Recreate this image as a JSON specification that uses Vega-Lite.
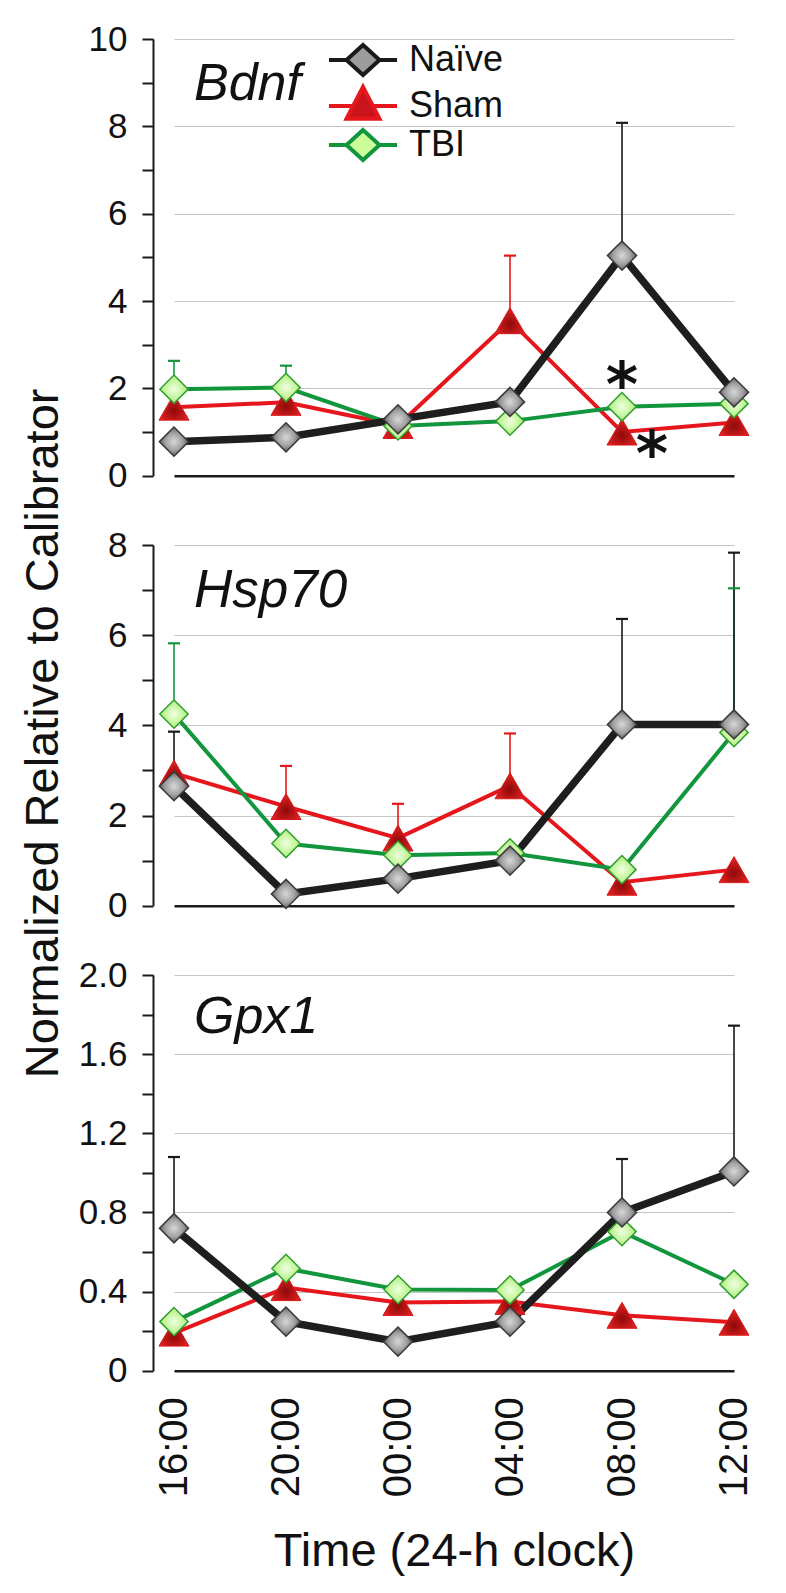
{
  "$schema": "https://vega.github.io/schema/vega-lite/v6.json",
  "background": "white",
  "padding": {"left": 20, "top": 22, "right": 10, "bottom": 8},
  "config": {"view": {"stroke": null}, "font": "Liberation Sans"},
  "title": {"text": "Normalized Relative to Calibrator", "orient": "left", "anchor": "middle", "frame": "bounds", "fontSize": 47, "fontWeight": "normal", "font": "Liberation Sans", "color": "#111", "offset": -27, "baseline": "alphabetic", "dx": 65},
  "datasets": {
    "pts": [
      {"gene": "Bdnf", "series": "Sham", "time": "16:00", "value": 1.57},
      {"gene": "Bdnf", "series": "Sham", "time": "20:00", "value": 1.68},
      {"gene": "Bdnf", "series": "Sham", "time": "00:00", "value": 1.15},
      {"gene": "Bdnf", "series": "Sham", "time": "04:00", "value": 3.55, "upper": 5.04},
      {"gene": "Bdnf", "series": "Sham", "time": "08:00", "value": 1.0},
      {"gene": "Bdnf", "series": "Sham", "time": "12:00", "value": 1.22},
      {"gene": "Bdnf", "series": "TBI", "time": "16:00", "value": 1.98, "upper": 2.63},
      {"gene": "Bdnf", "series": "TBI", "time": "20:00", "value": 2.02, "upper": 2.52},
      {"gene": "Bdnf", "series": "TBI", "time": "00:00", "value": 1.14},
      {"gene": "Bdnf", "series": "TBI", "time": "04:00", "value": 1.25},
      {"gene": "Bdnf", "series": "TBI", "time": "08:00", "value": 1.58},
      {"gene": "Bdnf", "series": "TBI", "time": "12:00", "value": 1.65},
      {"gene": "Bdnf", "series": "Naïve", "time": "16:00", "value": 0.78},
      {"gene": "Bdnf", "series": "Naïve", "time": "20:00", "value": 0.88},
      {"gene": "Bdnf", "series": "Naïve", "time": "00:00", "value": 1.29},
      {"gene": "Bdnf", "series": "Naïve", "time": "04:00", "value": 1.69},
      {"gene": "Bdnf", "series": "Naïve", "time": "08:00", "value": 5.04, "upper": 8.08},
      {"gene": "Bdnf", "series": "Naïve", "time": "12:00", "value": 1.91},
      {"gene": "Hsp70", "series": "Sham", "time": "16:00", "value": 2.94},
      {"gene": "Hsp70", "series": "Sham", "time": "20:00", "value": 2.2, "upper": 3.1},
      {"gene": "Hsp70", "series": "Sham", "time": "00:00", "value": 1.5, "upper": 2.26},
      {"gene": "Hsp70", "series": "Sham", "time": "04:00", "value": 2.66, "upper": 3.82},
      {"gene": "Hsp70", "series": "Sham", "time": "08:00", "value": 0.52},
      {"gene": "Hsp70", "series": "Sham", "time": "12:00", "value": 0.8},
      {"gene": "Hsp70", "series": "TBI", "time": "16:00", "value": 4.25, "upper": 5.82},
      {"gene": "Hsp70", "series": "TBI", "time": "20:00", "value": 1.38},
      {"gene": "Hsp70", "series": "TBI", "time": "00:00", "value": 1.12},
      {"gene": "Hsp70", "series": "TBI", "time": "04:00", "value": 1.17},
      {"gene": "Hsp70", "series": "TBI", "time": "08:00", "value": 0.8},
      {"gene": "Hsp70", "series": "TBI", "time": "12:00", "value": 3.84, "upper": 7.04},
      {"gene": "Hsp70", "series": "Naïve", "time": "16:00", "value": 2.65, "upper": 3.86},
      {"gene": "Hsp70", "series": "Naïve", "time": "20:00", "value": 0.26},
      {"gene": "Hsp70", "series": "Naïve", "time": "00:00", "value": 0.6},
      {"gene": "Hsp70", "series": "Naïve", "time": "04:00", "value": 1.0},
      {"gene": "Hsp70", "series": "Naïve", "time": "08:00", "value": 4.02, "upper": 6.36},
      {"gene": "Hsp70", "series": "Naïve", "time": "12:00", "value": 4.02, "upper": 7.83},
      {"gene": "Gpx1", "series": "Sham", "time": "16:00", "value": 0.19},
      {"gene": "Gpx1", "series": "Sham", "time": "20:00", "value": 0.42},
      {"gene": "Gpx1", "series": "Sham", "time": "00:00", "value": 0.345},
      {"gene": "Gpx1", "series": "Sham", "time": "04:00", "value": 0.35},
      {"gene": "Gpx1", "series": "Sham", "time": "08:00", "value": 0.28},
      {"gene": "Gpx1", "series": "Sham", "time": "12:00", "value": 0.245},
      {"gene": "Gpx1", "series": "TBI", "time": "16:00", "value": 0.248},
      {"gene": "Gpx1", "series": "TBI", "time": "20:00", "value": 0.517},
      {"gene": "Gpx1", "series": "TBI", "time": "00:00", "value": 0.41},
      {"gene": "Gpx1", "series": "TBI", "time": "04:00", "value": 0.408},
      {"gene": "Gpx1", "series": "TBI", "time": "08:00", "value": 0.703},
      {"gene": "Gpx1", "series": "TBI", "time": "12:00", "value": 0.437},
      {"gene": "Gpx1", "series": "Naïve", "time": "16:00", "value": 0.72, "upper": 1.08},
      {"gene": "Gpx1", "series": "Naïve", "time": "20:00", "value": 0.248},
      {"gene": "Gpx1", "series": "Naïve", "time": "00:00", "value": 0.147},
      {"gene": "Gpx1", "series": "Naïve", "time": "04:00", "value": 0.248},
      {"gene": "Gpx1", "series": "Naïve", "time": "08:00", "value": 0.8, "upper": 1.07},
      {"gene": "Gpx1", "series": "Naïve", "time": "12:00", "value": 1.007, "upper": 1.744}
    ]
  },
  "spacing": 69,
  "bounds": "flush",
  "resolve": {"scale": {"x": "independent", "y": "independent", "color": "independent", "fill": "independent", "stroke": "independent", "shape": "independent"}},
  "vconcat": [
    {
      "width": 560, "height": 436.7,
      "title": {"text": "Bdnf", "anchor": "start", "frame": "group", "orient": "top", "offset": -130, "dx": 20, "fontSize": 52, "fontStyle": "italic", "fontWeight": "normal", "font": "Liberation Sans", "color": "#111", "baseline": "alphabetic"},
      "data": {"name": "pts"},
      "transform": [{"filter": "datum.gene === 'Bdnf'"}],
      "encoding": {
        "x": {"field": "time", "type": "ordinal", "scale": {"type": "point", "padding": 0, "domain": ["16:00", "20:00", "00:00", "04:00", "08:00", "12:00"]}, "axis": {"title": null, "labels": false, "ticks": false, "domainColor": "#1a1a1a", "domainWidth": 2.5, "grid": false}},
        "y": {"field": "value", "type": "quantitative", "scale": {"domain": [0, 10], "nice": false}, "axis": {"title": null, "offset": 21, "values": [0, 1, 2, 3, 4, 5, 6, 7, 8, 9, 10], "labelExpr": "datum.value % 2 === 0 ? datum.label : ''", "labelOverlap": false, "labelFlush": false, "domainColor": "#1a1a1a", "domainWidth": 2, "tickColor": "#1a1a1a", "tickWidth": 2, "tickSize": 11, "labelPadding": 15, "labelFontSize": 35, "labelColor": "#111", "labelFont": "Liberation Sans", "grid": true, "gridColor": "#c4c4c4", "gridWidth": 1.2, "gridOpacity": {"condition": {"test": "datum.value % 2 === 0 && datum.value > 0", "value": 1}, "value": 0}}}
      },
      "layer": [
        {"mark": {"type": "line", "color": "#e5171c", "strokeWidth": 4}, "transform": [{"filter": "datum.series === 'Sham'"}]},
        {"mark": {"type": "line", "color": "#12963d", "strokeWidth": 4}, "transform": [{"filter": "datum.series === 'TBI'"}]},
        {"mark": {"type": "line", "color": "#1e1e1e", "strokeWidth": 7.5}, "transform": [{"filter": "datum.series === 'Naïve'"}]},
        {"transform": [{"filter": "isValid(datum.upper)"}], "mark": {"type": "rule", "strokeWidth": 1.6}, "encoding": {"y2": {"field": "upper"}, "color": {"field": "series", "type": "nominal", "scale": {"domain": ["Sham", "TBI", "Naïve"], "range": ["#e5171c", "#12963d", "#1a1a1a"]}, "legend": null}}},
        {"transform": [{"filter": "isValid(datum.upper)"}], "mark": {"type": "tick", "size": 12, "thickness": 2.2, "opacity": 1}, "encoding": {"y": {"field": "upper", "type": "quantitative"}, "color": {"field": "series", "type": "nominal", "scale": {"domain": ["Sham", "TBI", "Naïve"], "range": ["#e5171c", "#12963d", "#1a1a1a"]}, "legend": null}}},
        {"transform": [{"filter": "datum.series === 'Sham'"}], "mark": {"type": "point", "shape": "triangle-up", "size": 900, "filled": true, "opacity": 1, "fill": {"gradient": "radial", "x1": 0.5, "y1": 0.62, "x2": 0.5, "y2": 0.62, "r1": 0, "r2": 0.6, "stops": [{"offset": 0, "color": "#8e0a0a"}, {"offset": 1, "color": "#ef2424"}]}, "stroke": "#d81a1a", "strokeWidth": 1}},
        {"transform": [{"filter": "datum.series === 'TBI'"}], "mark": {"type": "point", "shape": "diamond", "size": 800, "filled": true, "opacity": 1, "fill": {"gradient": "radial", "x1": 0.5, "y1": 0.5, "x2": 0.5, "y2": 0.5, "r1": 0, "r2": 0.55, "stops": [{"offset": 0, "color": "#f0ffe0"}, {"offset": 1, "color": "#a6ef70"}]}, "stroke": "#2f9e2f", "strokeWidth": 1.5}},
        {"transform": [{"filter": "datum.series === 'Naïve'"}], "mark": {"type": "point", "shape": "diamond", "size": 850, "filled": true, "opacity": 1, "fill": {"gradient": "radial", "x1": 0.5, "y1": 0.5, "x2": 0.5, "y2": 0.5, "r1": 0, "r2": 0.55, "stops": [{"offset": 0, "color": "#d8d8d8"}, {"offset": 0.55, "color": "#a0a0a0"}, {"offset": 1, "color": "#505050"}]}, "stroke": "#3a3a3a", "strokeWidth": 1.5}},
        {"transform": [{"filter": "false"}], "mark": {"type": "point", "filled": true, "opacity": 1},
         "encoding": {
           "shape": {"field": "series", "type": "nominal", "scale": {"domain": ["Naïve", "Sham", "TBI"], "range": ["M-2.27,0H-1.1M1.1,0H2.27M0,-1L1.1,0L0,1L-1.1,0Z", "M-2.27,0H-0.66M0.66,0H2.27M0,-1.27L1.1,0.85L-1.1,0.85Z", "M-2.27,0H-1.1M1.1,0H2.27M0,-1L1.1,0L0,1L-1.1,0Z"]}, "legend": {"orient": "none", "legendX": 171, "legendY": 3, "title": null, "padding": 0, "labelFontSize": 36, "labelFont": "Liberation Sans", "labelColor": "#111", "labelOffset": 28, "symbolSize": 900, "symbolStrokeWidth": 4, "rowPadding": -5, "symbolOpacity": 1}},
           "fill": {"field": "series", "type": "nominal", "scale": {"domain": ["Naïve", "Sham", "TBI"], "range": ["#9d9d9d", "#c8141a", "#ccff99"]}, "legend": {"orient": "none", "legendX": 171, "legendY": 3, "title": null, "padding": 0, "labelFontSize": 36, "labelFont": "Liberation Sans", "labelColor": "#111", "labelOffset": 28, "symbolSize": 900, "symbolStrokeWidth": 4, "rowPadding": -5, "symbolOpacity": 1}},
           "stroke": {"field": "series", "type": "nominal", "scale": {"domain": ["Naïve", "Sham", "TBI"], "range": ["#1a1a1a", "#e5171c", "#12963d"]}, "legend": {"orient": "none", "legendX": 171, "legendY": 3, "title": null, "padding": 0, "labelFontSize": 36, "labelFont": "Liberation Sans", "labelColor": "#111", "labelOffset": 28, "symbolSize": 900, "symbolStrokeWidth": 4, "rowPadding": -5, "symbolOpacity": 1}}
         }},
        {"data": {"values": [{"gene": "Bdnf", "time": "08:00", "value": 2.42, "label": "*"}]}, "mark": {"type": "text", "font": "DejaVu Sans", "fontWeight": "bold", "fontSize": 62, "baseline": "alphabetic", "dy": 36, "color": "#111"}, "encoding": {"text": {"field": "label"}}},
        {"data": {"values": [{"gene": "Bdnf", "time": "08:00", "value": 0.85, "label": "*"}]}, "mark": {"type": "text", "font": "DejaVu Sans", "fontWeight": "bold", "fontSize": 62, "baseline": "alphabetic", "dy": 36, "dx": 30, "color": "#111"}, "encoding": {"text": {"field": "label"}}}
      ]
    },
    {
      "width": 560, "height": 360.7,
      "title": {"text": "Hsp70", "anchor": "start", "frame": "group", "orient": "top", "offset": -131.7, "dx": 20, "fontSize": 53, "fontStyle": "italic", "fontWeight": "normal", "font": "Liberation Sans", "color": "#111", "baseline": "alphabetic"},
      "data": {"name": "pts"},
      "transform": [{"filter": "datum.gene === 'Hsp70'"}],
      "encoding": {
        "x": {"field": "time", "type": "ordinal", "scale": {"type": "point", "padding": 0, "domain": ["16:00", "20:00", "00:00", "04:00", "08:00", "12:00"]}, "axis": {"title": null, "labels": false, "ticks": false, "domainColor": "#1a1a1a", "domainWidth": 2.5, "grid": false}},
        "y": {"field": "value", "type": "quantitative", "scale": {"domain": [0, 8], "nice": false}, "axis": {"title": null, "offset": 21, "values": [0, 1, 2, 3, 4, 5, 6, 7, 8], "labelExpr": "datum.value % 2 === 0 ? datum.label : ''", "labelOverlap": false, "labelFlush": false, "domainColor": "#1a1a1a", "domainWidth": 2, "tickColor": "#1a1a1a", "tickWidth": 2, "tickSize": 11, "labelPadding": 15, "labelFontSize": 35, "labelColor": "#111", "labelFont": "Liberation Sans", "grid": true, "gridColor": "#c4c4c4", "gridWidth": 1.2, "gridOpacity": {"condition": {"test": "datum.value % 2 === 0 && datum.value > 0", "value": 1}, "value": 0}}}
      },
      "layer": [
        {"mark": {"type": "line", "color": "#e5171c", "strokeWidth": 4}, "transform": [{"filter": "datum.series === 'Sham'"}]},
        {"mark": {"type": "line", "color": "#12963d", "strokeWidth": 4}, "transform": [{"filter": "datum.series === 'TBI'"}]},
        {"mark": {"type": "line", "color": "#1e1e1e", "strokeWidth": 7.5}, "transform": [{"filter": "datum.series === 'Naïve'"}]},
        {"transform": [{"filter": "isValid(datum.upper)"}], "mark": {"type": "rule", "strokeWidth": 1.6}, "encoding": {"y2": {"field": "upper"}, "color": {"field": "series", "type": "nominal", "scale": {"domain": ["Sham", "TBI", "Naïve"], "range": ["#e5171c", "#12963d", "#1a1a1a"]}, "legend": null}}},
        {"transform": [{"filter": "isValid(datum.upper)"}], "mark": {"type": "tick", "size": 12, "thickness": 2.2, "opacity": 1}, "encoding": {"y": {"field": "upper", "type": "quantitative"}, "color": {"field": "series", "type": "nominal", "scale": {"domain": ["Sham", "TBI", "Naïve"], "range": ["#e5171c", "#12963d", "#1a1a1a"]}, "legend": null}}},
        {"transform": [{"filter": "datum.series === 'Sham'"}], "mark": {"type": "point", "shape": "triangle-up", "size": 900, "filled": true, "opacity": 1, "fill": {"gradient": "radial", "x1": 0.5, "y1": 0.62, "x2": 0.5, "y2": 0.62, "r1": 0, "r2": 0.6, "stops": [{"offset": 0, "color": "#8e0a0a"}, {"offset": 1, "color": "#ef2424"}]}, "stroke": "#d81a1a", "strokeWidth": 1}},
        {"transform": [{"filter": "datum.series === 'TBI'"}], "mark": {"type": "point", "shape": "diamond", "size": 800, "filled": true, "opacity": 1, "fill": {"gradient": "radial", "x1": 0.5, "y1": 0.5, "x2": 0.5, "y2": 0.5, "r1": 0, "r2": 0.55, "stops": [{"offset": 0, "color": "#f0ffe0"}, {"offset": 1, "color": "#a6ef70"}]}, "stroke": "#2f9e2f", "strokeWidth": 1.5}},
        {"transform": [{"filter": "datum.series === 'Naïve'"}], "mark": {"type": "point", "shape": "diamond", "size": 850, "filled": true, "opacity": 1, "fill": {"gradient": "radial", "x1": 0.5, "y1": 0.5, "x2": 0.5, "y2": 0.5, "r1": 0, "r2": 0.55, "stops": [{"offset": 0, "color": "#d8d8d8"}, {"offset": 0.55, "color": "#a0a0a0"}, {"offset": 1, "color": "#505050"}]}, "stroke": "#3a3a3a", "strokeWidth": 1.5}}
      ]
    },
    {
      "width": 560, "height": 395.7,
      "title": {"text": "Gpx1", "anchor": "start", "frame": "group", "orient": "top", "offset": -127, "dx": 20, "fontSize": 52, "fontStyle": "italic", "fontWeight": "normal", "font": "Liberation Sans", "color": "#111", "baseline": "alphabetic"},
      "data": {"name": "pts"},
      "transform": [{"filter": "datum.gene === 'Gpx1'"}],
      "encoding": {
        "x": {"field": "time", "type": "ordinal", "scale": {"type": "point", "padding": 0, "domain": ["16:00", "20:00", "00:00", "04:00", "08:00", "12:00"]}, "axis": {"title": "Time (24-h clock)", "labelAngle": -90, "labelFontSize": 40, "labelPadding": 26, "labelColor": "#111", "labelFont": "Liberation Sans", "ticks": false, "domainColor": "#1a1a1a", "domainWidth": 2.5, "grid": false, "titleFontSize": 47, "titleFontWeight": "normal", "titleColor": "#111", "titleFont": "Liberation Sans", "titleY": 195, "titleBaseline": "alphabetic"}},
        "y": {"field": "value", "type": "quantitative", "scale": {"domain": [0, 2], "nice": false}, "axis": {"title": null, "offset": 21, "values": [0, 0.2, 0.4, 0.6, 0.8, 1, 1.2, 1.4, 1.6, 1.8, 2], "labelExpr": "round(datum.value * 10) % 4 === 0 ? (datum.value === 0 ? '0' : format(datum.value, '.1f')) : ''", "labelOverlap": false, "labelFlush": false, "domainColor": "#1a1a1a", "domainWidth": 2, "tickColor": "#1a1a1a", "tickWidth": 2, "tickSize": 11, "labelPadding": 15, "labelFontSize": 35, "labelColor": "#111", "labelFont": "Liberation Sans", "grid": true, "gridColor": "#c4c4c4", "gridWidth": 1.2, "gridOpacity": {"condition": {"test": "round(datum.value * 10) % 4 === 0 && datum.value > 0", "value": 1}, "value": 0}}}
      },
      "layer": [
        {"mark": {"type": "line", "color": "#e5171c", "strokeWidth": 4}, "transform": [{"filter": "datum.series === 'Sham'"}]},
        {"mark": {"type": "line", "color": "#12963d", "strokeWidth": 4}, "transform": [{"filter": "datum.series === 'TBI'"}]},
        {"mark": {"type": "line", "color": "#1e1e1e", "strokeWidth": 7.5}, "transform": [{"filter": "datum.series === 'Naïve'"}]},
        {"transform": [{"filter": "isValid(datum.upper)"}], "mark": {"type": "rule", "strokeWidth": 1.6}, "encoding": {"y2": {"field": "upper"}, "color": {"field": "series", "type": "nominal", "scale": {"domain": ["Sham", "TBI", "Naïve"], "range": ["#e5171c", "#12963d", "#1a1a1a"]}, "legend": null}}},
        {"transform": [{"filter": "isValid(datum.upper)"}], "mark": {"type": "tick", "size": 12, "thickness": 2.2, "opacity": 1}, "encoding": {"y": {"field": "upper", "type": "quantitative"}, "color": {"field": "series", "type": "nominal", "scale": {"domain": ["Sham", "TBI", "Naïve"], "range": ["#e5171c", "#12963d", "#1a1a1a"]}, "legend": null}}},
        {"transform": [{"filter": "datum.series === 'Sham'"}], "mark": {"type": "point", "shape": "triangle-up", "size": 900, "filled": true, "opacity": 1, "fill": {"gradient": "radial", "x1": 0.5, "y1": 0.62, "x2": 0.5, "y2": 0.62, "r1": 0, "r2": 0.6, "stops": [{"offset": 0, "color": "#8e0a0a"}, {"offset": 1, "color": "#ef2424"}]}, "stroke": "#d81a1a", "strokeWidth": 1}},
        {"transform": [{"filter": "datum.series === 'TBI'"}], "mark": {"type": "point", "shape": "diamond", "size": 800, "filled": true, "opacity": 1, "fill": {"gradient": "radial", "x1": 0.5, "y1": 0.5, "x2": 0.5, "y2": 0.5, "r1": 0, "r2": 0.55, "stops": [{"offset": 0, "color": "#f0ffe0"}, {"offset": 1, "color": "#a6ef70"}]}, "stroke": "#2f9e2f", "strokeWidth": 1.5}},
        {"transform": [{"filter": "datum.series === 'Naïve'"}], "mark": {"type": "point", "shape": "diamond", "size": 850, "filled": true, "opacity": 1, "fill": {"gradient": "radial", "x1": 0.5, "y1": 0.5, "x2": 0.5, "y2": 0.5, "r1": 0, "r2": 0.55, "stops": [{"offset": 0, "color": "#d8d8d8"}, {"offset": 0.55, "color": "#a0a0a0"}, {"offset": 1, "color": "#505050"}]}, "stroke": "#3a3a3a", "strokeWidth": 1.5}}
      ]
    }
  ]
}
